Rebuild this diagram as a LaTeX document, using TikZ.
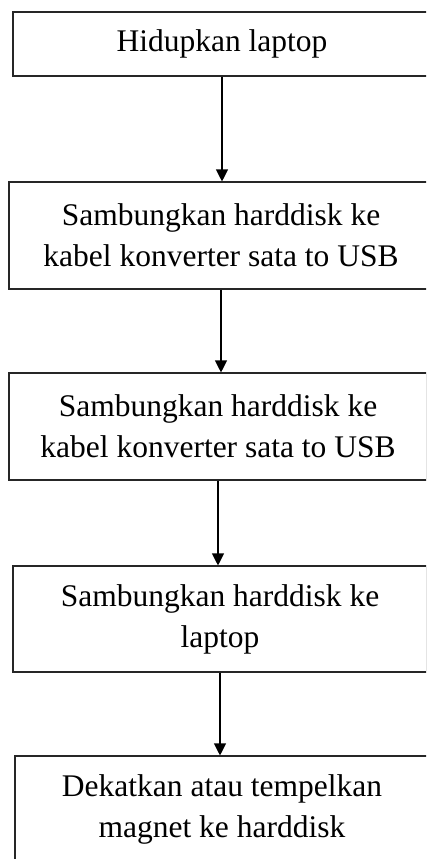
\documentclass[tikz,border=0pt]{standalone}
\usepackage{fontspec}
\setmainfont{Liberation Serif}
\usetikzlibrary{arrows.meta}
\begin{document}
\begin{tikzpicture}[x=1pt,y=-1pt,
  stepbox/.style={draw=black!85, line width=1.1pt, inner sep=0pt, align=center,
    font=\fontsize{31.5}{41}\selectfont},
  conn/.style={draw=black, line width=1.1pt, -{Triangle[length=12pt,width=12pt]}}]
\useasboundingbox (0,0) rectangle (426,859);
\clip (0,0) rectangle (426,859);
\node[stepbox, minimum width=418pt, minimum height=64pt] (a) at (222,44) {Hidupkan laptop};
\node[stepbox, minimum width=424pt, minimum height=107pt] (b) at (221,235.5) {Sambungkan harddisk ke\\kabel konverter sata to USB};
\node[stepbox, minimum width=418pt, minimum height=107pt] (c) at (218,426.5) {Sambungkan harddisk ke\\kabel konverter sata to USB};
\node[stepbox, minimum width=414pt, minimum height=106pt] (d) at (220,619) {Sambungkan harddisk ke\\laptop};
\node[stepbox, minimum width=414pt, minimum height=107pt] (e) at (222,809.5) {Dekatkan atau tempelkan\\magnet ke harddisk};
\draw[conn] (a.south) -- (a.south |- b.north);
\draw[conn] (b.south) -- (b.south |- c.north);
\draw[conn] (c.south) -- (c.south |- d.north);
\draw[conn] (d.south) -- (d.south |- e.north);
\end{tikzpicture}
\end{document}
